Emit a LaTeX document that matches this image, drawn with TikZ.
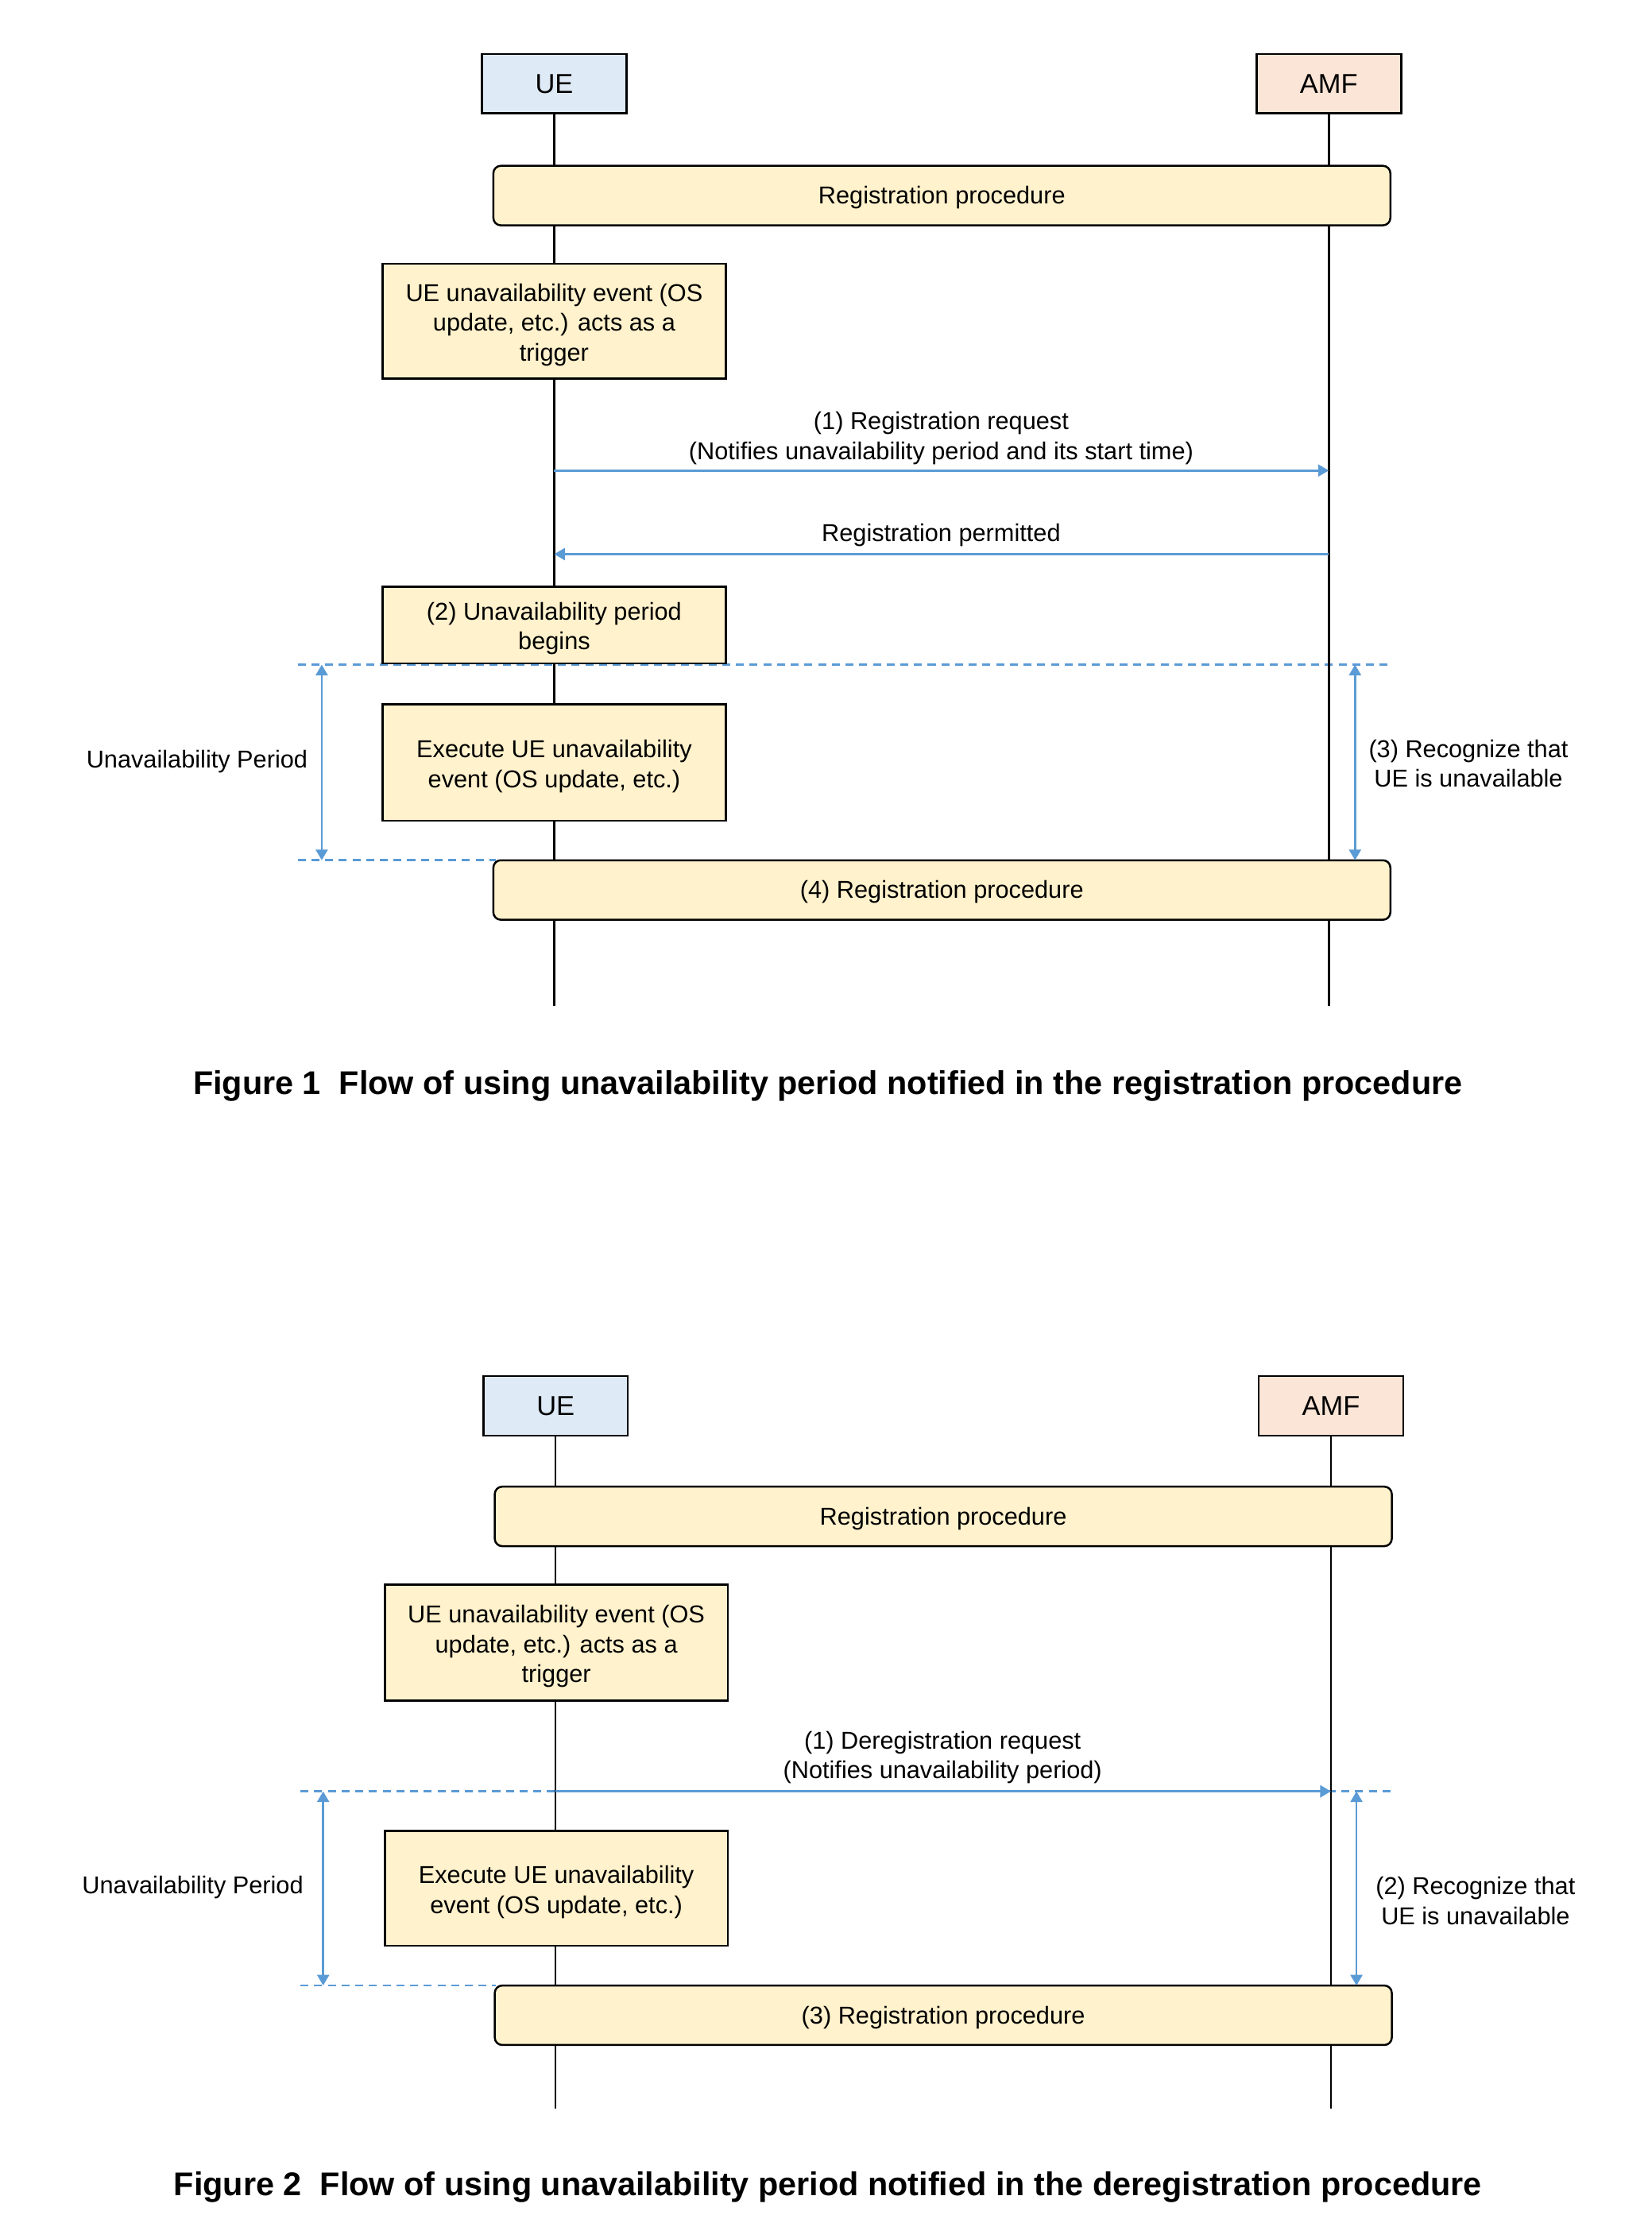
\documentclass[tikz,border=0pt]{standalone}
\usepackage{fontspec}
\setmainfont{Liberation Sans}
\usetikzlibrary{arrows.meta}
\definecolor{uefill}{HTML}{DEEBF7}
\definecolor{amffill}{HTML}{FBE5D6}
\definecolor{pasofill}{HTML}{FFF2CC}
\definecolor{azul}{HTML}{5B9BD5}
\newcommand\puntal{\rule[-0.212em]{0pt}{1.117em}}
\newcommand\alto{\rule{0pt}{1.03em}}
\tikzset{
  base/.style={inner sep=0pt, execute at begin node=\puntal, execute at end node=\puntal},
  varias/.style={inner sep=0pt, align=center},
  entidad/.style={base, draw=black, line width=0.8pt, minimum width=2.04cm, minimum height=0.84cm, font=\fontsize{11}{13}\selectfont},
  accion/.style={varias, draw=black, line width=0.8pt, fill=pasofill, minimum width=4.84cm, font=\fontsize{9.8}{11.95}\selectfont},
  proc/.style={base, draw=black, line width=0.8pt, fill=pasofill, rounded corners=3pt, minimum width=12.66cm, minimum height=0.84cm, font=\fontsize{9.8}{11.95}\selectfont},
  etiqueta/.style={base, font=\fontsize{9.8}{11.95}\selectfont},
  texto/.style={varias, font=\fontsize{9.8}{11.95}\selectfont},
  titulo/.style={base, font=\fontsize{13.2}{15}\selectfont\bfseries},
  vida/.style={line width=0.8pt, draw=black},
  msg/.style={line width=0.85pt, draw=azul, -{Triangle[length=4.3pt, width=4.8pt]}},
  periodo/.style={line width=0.85pt, draw=azul, {Triangle[length=4.3pt, width=4.8pt]}-{Triangle[length=4.3pt, width=4.8pt]}},
  limite/.style={line width=0.8pt, draw=azul, dash pattern=on 3.2pt off 2.3pt}
}
\begin{document}
\begin{tikzpicture}[x=0.02cm, y=-0.02cm]
  \useasboundingbox (0,0) rectangle (1165,1568.6);
  % Figura 1: limites del periodo
  \draw[limite] (210,469) -- (983,469);
  \draw[limite] (210,607) -- (350,607);
  % Entidades y lineas de vida
  \node[entidad, fill=uefill] (ue) at (391,59) {UE};
  \node[entidad, fill=amffill] (amf) at (937.5,59) {AMF};
  \coordinate (uefin) at (391,710);
  \coordinate (amffin) at (937.5,710);
  \draw[vida] (ue) -- (uefin);
  \draw[vida] (amf) -- (amffin);
  % Pasos
  \node[proc] (reg) at (664.5,138) {Registration procedure};
  \node[accion, minimum height=1.62cm] (disparo) at (391,226.5) {\alto UE unavailability event (OS\\update, etc.) acts as a\\trigger};
  \node[texto] (solicitud) at (664,306.5) {\alto(1) Registration request\\(Notifies unavailability period and its start time)};
  \coordinate (m1) at (0,332);
  \draw[msg] (ue |- m1) -- (amf |- m1);
  \node[etiqueta] (permitido) at (664,376) {Registration permitted};
  \coordinate (m2) at (0,391);
  \draw[msg] (amf |- m2) -- (ue |- m2);
  \node[accion, minimum height=1.08cm] (inicio) at (391,441) {\alto(2) Unavailability period\\begins};
  \node[accion, minimum height=1.64cm] (ejecuta) at (391,538) {\alto Execute UE unavailability\\event (OS update, etc.)};
  \node[proc] (reg4) at (664.5,628) {(4) Registration procedure};
  % Periodo de indisponibilidad
  \coordinate (pa) at (227,469);
  \coordinate (pb) at (227,607);
  \draw[periodo] (pa) -- (pb);
  \node[etiqueta] (periodo) at (139,536) {Unavailability Period};
  \coordinate (ra) at (956,469);
  \coordinate (rb) at (956,607);
  \draw[periodo] (ra) -- (rb);
  \node[texto] (reconoce) at (1036,538) {\alto(3) Recognize that\\UE is unavailable\puntal};
  \node[titulo] (fig1) at (584,764) {Figure 1\ \ Flow of using unavailability period notified in the registration procedure};

  % Figura 2: limites del periodo
  \draw[limite] (212,1264) -- (983,1264);
  \draw[limite] (212,1401) -- (350,1401);
  % Entidades y lineas de vida
  \node[entidad, fill=uefill] (ueb) at (392,992) {UE};
  \node[entidad, fill=amffill] (amfb) at (939,992) {AMF};
  \coordinate (uebfin) at (392,1488);
  \coordinate (amfbfin) at (939,1488);
  \draw[vida] (ueb) -- (uebfin);
  \draw[vida] (amfb) -- (amfbfin);
  % Pasos
  \node[proc] (regb) at (665.5,1070) {Registration procedure};
  \node[accion, minimum height=1.64cm] (disparob) at (392.5,1159) {\alto UE unavailability event (OS\\update, etc.) acts as a\\trigger};
  \node[texto] (baja) at (665,1237.5) {\alto(1) Deregistration request\\(Notifies unavailability period)};
  \coordinate (m3) at (0,1264);
  \draw[msg] (ueb |- m3) -- (amfb |- m3);
  \node[accion, minimum height=1.62cm] (ejecutab) at (392.5,1332.5) {\alto Execute UE unavailability\\event (OS update, etc.)};
  \node[proc] (reg3) at (665.5,1422) {(3) Registration procedure};
  % Periodo de indisponibilidad
  \coordinate (pc) at (228,1264);
  \coordinate (pd) at (228,1401);
  \draw[periodo] (pc) -- (pd);
  \node[etiqueta] (periodob) at (136,1330) {Unavailability Period};
  \coordinate (rc) at (957,1264);
  \coordinate (rd) at (957,1401);
  \draw[periodo] (rc) -- (rd);
  \node[texto] (reconoceb) at (1041,1340.5) {\alto(2) Recognize that\\UE is unavailable\puntal};
  \node[titulo] (fig2) at (584,1541) {Figure 2\ \ Flow of using unavailability period notified in the deregistration procedure};
\end{tikzpicture}
\end{document}
